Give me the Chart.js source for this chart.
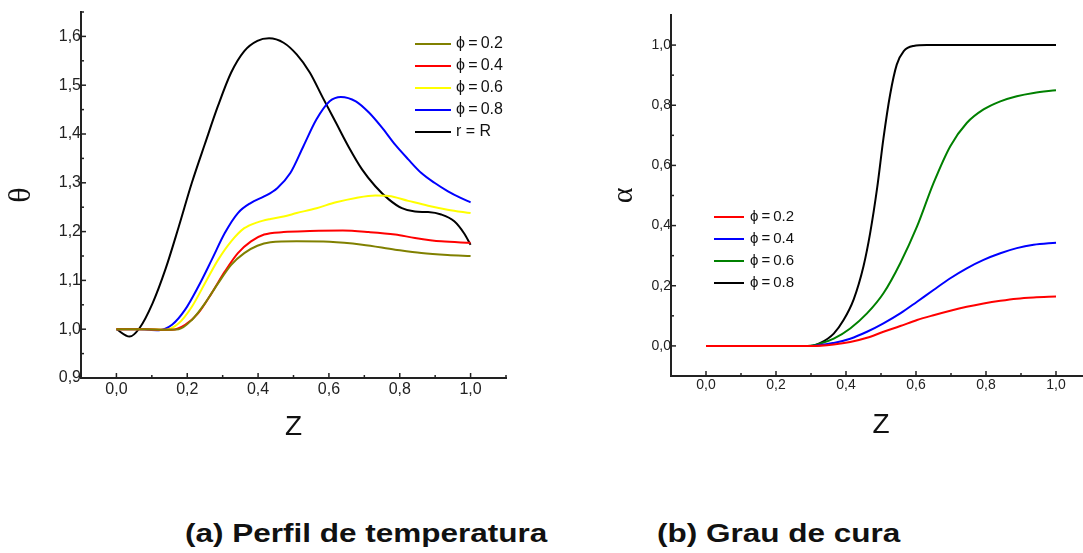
<!DOCTYPE html>
<html>
<head>
<meta charset="utf-8">
<script src="https://cdn.jsdelivr.net/npm/chart.js@4.4.1/dist/chart.umd.min.js"></script>
<style>
  body { margin: 0; width: 1083px; height: 553px; overflow: hidden; background: #fff; position: relative; font-family: "Liberation Sans", Arial, sans-serif; }
  #temp { position: absolute; left: 0; top: 0; }
  #cure { position: absolute; left: 560px; top: 0; }
  .cap { position: absolute; top: 521px; font-weight: bold; font-size: 25px; line-height: 25px; color: #111; white-space: nowrap; transform: scaleX(1.26); transform-origin: left center; }
</style>
</head>
<body>
<canvas id="temp" width="540" height="460"></canvas>
<canvas id="cure" width="540" height="460"></canvas>
<div class="cap" style="left:185px">(a) Perfil de temperatura</div>
<div class="cap" style="left:657px">(b) Grau de cura</div>
<script>
// ---- (a) temperature profile, theta vs Z ----
const tempLabels = ['\u03D5\u2009=\u20090.2', '\u03D5\u2009=\u20090.4', '\u03D5\u2009=\u20090.6', '\u03D5\u2009=\u20090.8', 'r = R'];
const tempColors = ['#808000', '#ff0000', '#ffff00', '#0000ff', '#000000'];

const zT02 = [0, 0.08, 0.14, 0.176, 0.213, 0.25, 0.287, 0.324, 0.361, 0.398, 0.435, 0.509, 0.602, 0.694, 0.787, 0.861, 0.935, 1.0];
const thT02 = [1.0, 1.0, 0.999, 1.0, 1.019, 1.053, 1.094, 1.132, 1.156, 1.171, 1.178, 1.180, 1.179, 1.173, 1.163, 1.156, 1.152, 1.150];
const zT04 = [0, 0.08, 0.13, 0.157, 0.194, 0.231, 0.269, 0.306, 0.343, 0.38, 0.417, 0.472, 0.546, 0.639, 0.713, 0.787, 0.843, 0.917, 1.0];
const thT04 = [1.0, 1.0, 0.999, 0.999, 1.009, 1.033, 1.074, 1.118, 1.156, 1.180, 1.194, 1.199, 1.201, 1.202, 1.199, 1.194, 1.187, 1.180, 1.177];
const zT06 = [0, 0.08, 0.139, 0.176, 0.213, 0.25, 0.287, 0.324, 0.361, 0.398, 0.435, 0.472, 0.509, 0.565, 0.62, 0.676, 0.731, 0.769, 0.824, 0.88, 0.935, 1.0];
const thT06 = [1.0, 1.0, 0.999, 1.012, 1.046, 1.094, 1.142, 1.180, 1.207, 1.219, 1.226, 1.231, 1.238, 1.248, 1.260, 1.269, 1.274, 1.273, 1.263, 1.253, 1.245, 1.238];
const zT08 = [0, 0.06, 0.12, 0.157, 0.194, 0.231, 0.269, 0.306, 0.343, 0.38, 0.417, 0.454, 0.491, 0.528, 0.565, 0.602, 0.634, 0.676, 0.713, 0.75, 0.787, 0.824, 0.861, 0.898, 0.935, 0.972, 1.0];
const thT08 = [1.0, 1.0, 0.998, 1.009, 1.040, 1.087, 1.142, 1.197, 1.238, 1.259, 1.272, 1.289, 1.320, 1.375, 1.430, 1.467, 1.476, 1.467, 1.444, 1.413, 1.378, 1.348, 1.320, 1.300, 1.283, 1.269, 1.260];
const zTR = [0, 0.037, 0.065, 0.102, 0.139, 0.176, 0.213, 0.25, 0.287, 0.324, 0.361, 0.398, 0.431, 0.472, 0.509, 0.546, 0.583, 0.62, 0.657, 0.694, 0.731, 0.769, 0.806, 0.843, 0.88, 0.917, 0.954, 0.981, 1.0];
const thTR = [1.0, 0.985, 1.002, 1.053, 1.124, 1.210, 1.300, 1.380, 1.458, 1.526, 1.570, 1.591, 1.596, 1.587, 1.563, 1.526, 1.474, 1.423, 1.372, 1.327, 1.293, 1.266, 1.248, 1.241, 1.240, 1.235, 1.221, 1.197, 1.173];

const tempXTicks = [0, 0.2, 0.4, 0.6, 0.8, 1.0];
const tempXTickLabels = ['0,0', '0,2', '0,4', '0,6', '0,8', '1,0'];
const tempXMinor = [0.1, 0.3, 0.5, 0.7, 0.9, 1.1];
const tempYTicks = [0.9, 1.0, 1.1, 1.2, 1.3, 1.4, 1.5, 1.6];
const tempYTickLabels = ['0,9', '1,0', '1,1', '1,2', '1,3', '1,4', '1,5', '1,6'];
const tempYMinor = [0.95, 1.05, 1.15, 1.25, 1.35, 1.45, 1.55, 1.65];

// ---- (b) degree of cure, alpha vs Z ----
const cureLabels = ['\u03D5\u2009=\u20090.2', '\u03D5\u2009=\u20090.4', '\u03D5\u2009=\u20090.6', '\u03D5\u2009=\u20090.8'];
const cureColors = ['#ff0000', '#0000ff', '#008000', '#000000'];

const zC02 = [0, 0.2, 0.3, 0.365, 0.412, 0.46, 0.507, 0.555, 0.603, 0.65, 0.698, 0.745, 0.793, 0.841, 0.888, 0.936, 1.0];
const aC02 = [0, 0, 0, 0.005, 0.013, 0.027, 0.047, 0.066, 0.086, 0.102, 0.117, 0.130, 0.141, 0.150, 0.157, 0.161, 0.164];
const zC04 = [0, 0.2, 0.3, 0.365, 0.412, 0.46, 0.507, 0.555, 0.603, 0.65, 0.698, 0.745, 0.793, 0.841, 0.888, 0.936, 1.0];
const aC04 = [0, 0, 0, 0.010, 0.024, 0.047, 0.075, 0.108, 0.147, 0.186, 0.225, 0.258, 0.286, 0.308, 0.325, 0.336, 0.343];
const zC06 = [0, 0.2, 0.29, 0.327, 0.365, 0.412, 0.46, 0.507, 0.555, 0.603, 0.65, 0.698, 0.745, 0.793, 0.841, 0.888, 0.936, 1.0];
const aC06 = [0, 0, 0, 0.008, 0.024, 0.058, 0.108, 0.175, 0.275, 0.397, 0.541, 0.664, 0.741, 0.786, 0.813, 0.830, 0.841, 0.850];
const zC08 = [0, 0.2, 0.298, 0.327, 0.365, 0.393, 0.422, 0.45, 0.469, 0.489, 0.507, 0.526, 0.545, 0.565, 0.593, 0.631, 0.8, 1.0];
const aC08 = [0, 0, 0, 0.010, 0.041, 0.086, 0.155, 0.265, 0.375, 0.525, 0.690, 0.835, 0.935, 0.980, 0.997, 1.0, 1.0, 1.0];

const cureXTicks = [0, 0.2, 0.4, 0.6, 0.8, 1.0];
const cureXTickLabels = ['0,0', '0,2', '0,4', '0,6', '0,8', '1,0'];
const cureXMinor = [0.1, 0.3, 0.5, 0.7, 0.9];
const cureYTicks = [0, 0.2, 0.4, 0.6, 0.8, 1.0];
const cureYTickLabels = ['0,0', '0,2', '0,4', '0,6', '0,8', '1,0'];
const cureYMinor = [0.1, 0.3, 0.5, 0.7, 0.9];

const pts = (xs, ys) => xs.map((x, i) => ({ x: x, y: ys[i] }));

// legend drawn inside the plot, like the original figure
const inlineLegend = {
  id: 'inlineLegend',
  afterDatasetsDraw(chart, args, opts) {
    const ctx = chart.ctx;
    ctx.save();
    ctx.font = opts.font;
    ctx.textBaseline = 'middle';
    chart.data.datasets.forEach((ds, i) => {
      const y = opts.y + i * opts.row;
      ctx.strokeStyle = ds.borderColor;
      ctx.lineWidth = 2;
      ctx.beginPath();
      ctx.moveTo(opts.x, y);
      ctx.lineTo(opts.x + opts.len, y);
      ctx.stroke();
      ctx.fillStyle = '#111';
      ctx.fillText(ds.label, opts.x + opts.len + opts.gap, y);
    });
    ctx.restore();
  }
};

// inward tick marks (major + minor)
const innerTicks = {
  id: 'innerTicks',
  afterDraw(chart, args, opts) {
    const { ctx, chartArea } = chart;
    const sx = chart.scales.x, sy = chart.scales.y;
    ctx.save();
    ctx.strokeStyle = '#222';
    ctx.lineWidth = 1.5;
    const vt = (v, len) => {
      const px = sx.getPixelForValue(v);
      ctx.beginPath(); ctx.moveTo(px, chartArea.bottom); ctx.lineTo(px, chartArea.bottom - len); ctx.stroke();
    };
    const ht = (v, len) => {
      const py = sy.getPixelForValue(v);
      ctx.beginPath(); ctx.moveTo(chartArea.left, py); ctx.lineTo(chartArea.left + len, py); ctx.stroke();
    };
    opts.xMajor.forEach(v => vt(v, 5));
    opts.xMinor.forEach(v => vt(v, 3));
    opts.yMajor.forEach(v => ht(v, 5));
    opts.yMinor.forEach(v => ht(v, 3));
    ctx.restore();
  }
};

function makeChart(id, cfg) {
  const datasets = cfg.series.map((s, i) => ({
    label: cfg.labels[i],
    data: pts(s[0], s[1]),
    borderColor: cfg.colors[i],
    borderWidth: 2,
    pointRadius: 0,
    cubicInterpolationMode: 'monotone',
    fill: false
  }));
  return new Chart(document.getElementById(id), {
    type: 'line',
    data: { datasets: datasets },
    plugins: [inlineLegend, innerTicks],
    options: {
      responsive: false,
      animation: false,
      layout: { padding: cfg.padding },
      plugins: {
        legend: { display: false },
        tooltip: { enabled: false },
        inlineLegend: cfg.legend,
        innerTicks: cfg.minor
      },
      scales: {
        x: {
          type: 'linear',
          min: cfg.xMin, max: cfg.xMax,
          afterBuildTicks: s => { s.ticks = cfg.xTicks.map(v => ({ value: v })); },
          afterFit: s => { s.height = cfg.xHeight; },
          ticks: {
            callback: v => cfg.xTickLabels[cfg.xTicks.indexOf(v)],
            font: { family: 'Liberation Sans', size: cfg.tickSize },
            color: '#222', padding: cfg.xPad, maxRotation: 0, autoSkip: false
          },
          grid: { drawOnChartArea: false, drawTicks: false },
          border: { color: '#222', width: 2 },
          title: {
            display: true, text: 'Z', color: '#111',
            font: { family: 'Liberation Sans', size: 28 },
            padding: { top: 0, bottom: cfg.xTitlePad }
          }
        },
        y: {
          type: 'linear',
          min: cfg.yMin, max: cfg.yMax,
          afterBuildTicks: s => { s.ticks = cfg.yTicks.map(v => ({ value: v })); },
          afterFit: s => { s.width = cfg.yWidth; },
          ticks: {
            callback: v => cfg.yTickLabels[cfg.yTicks.indexOf(v)],
            font: { family: 'Liberation Sans', size: cfg.tickSize },
            color: '#222', padding: 0
          },
          grid: { drawOnChartArea: false, drawTicks: false },
          border: { color: '#222', width: 2 },
          title: {
            display: true, text: cfg.yTitle, color: '#111',
            font: { family: 'Liberation Serif', size: cfg.yTitleSize },
            padding: { top: cfg.yTitlePad, bottom: 0 }
          }
        }
      }
    }
  });
}

makeChart('temp', {
  labels: tempLabels, colors: tempColors,
  series: [[zT02, thT02], [zT04, thT04], [zT06, thT06], [zT08, thT08], [zTR, thTR]],
  xMin: -0.1, xMax: 1.1, yMin: 0.9, yMax: 1.65,
  xTicks: tempXTicks, xTickLabels: tempXTickLabels,
  yTicks: tempYTicks, yTickLabels: tempYTickLabels,
  minor: { xMajor: tempXTicks, xMinor: tempXMinor, yMajor: tempYTicks, yMinor: tempYMinor },
  padding: { top: 12, right: 34, left: 0, bottom: 0 },
  xHeight: 82, yWidth: 81, tickSize: 16, xPad: 2, xTitlePad: 16,
  yTitle: '\u03B8', yTitleSize: 32, yTitlePad: 2,
  legend: { x: 415, y: 44, row: 22, len: 36, gap: 5, font: '16px "Liberation Sans"' }
});

makeChart('cure', {
  labels: cureLabels, colors: cureColors,
  series: [[zC02, aC02], [zC04, aC04], [zC06, aC06], [zC08, aC08]],
  xMin: -0.1, xMax: 1.1, yMin: -0.1, yMax: 1.1,
  xTicks: cureXTicks, xTickLabels: cureXTickLabels,
  yTicks: cureYTicks, yTickLabels: cureYTickLabels,
  minor: { xMajor: cureXTicks, xMinor: cureXMinor, yMajor: cureYTicks, yMinor: cureYMinor },
  padding: { top: 15, right: 9, left: 0, bottom: 0 },
  xHeight: 84, yWidth: 111, tickSize: 14, xPad: 1, xTitlePad: 18,
  yTitle: '\u03B1', yTitleSize: 30, yTitlePad: 46,
  legend: { x: 154, y: 217, row: 22, len: 30, gap: 6, font: '15px "Liberation Sans"' }
});
</script>
</body>
</html>
